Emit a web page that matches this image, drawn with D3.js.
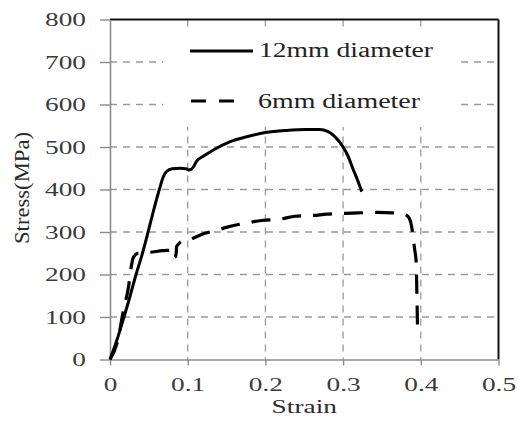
<!DOCTYPE html>
<html>
<head>
<meta charset="utf-8">
<script src="https://cdn.jsdelivr.net/npm/d3@7"></script>
<style>
  html, body { margin: 0; padding: 0; background: #fff; }
  svg { display: block; }
  svg text { font-family: "Liberation Serif", "Times New Roman", Times, "DejaVu Serif", serif; }
</style>
</head>
<body>
<svg id="chart" width="524" height="421"></svg>
<script>
// ---- data ----
const xTicks = [0, 0.1, 0.2, 0.3, 0.4, 0.5];
const yTicks = [0, 100, 200, 300, 400, 500, 600, 700, 800];
const seriesNames = ["12mm diameter", "6mm diameter"];

const strain12 = [0, 0.01, 0.018, 0.026, 0.0335, 0.041, 0.049, 0.056, 0.0635, 0.0686, 0.073, 0.08, 0.09, 0.098, 0.101, 0.104, 0.107, 0.1115, 0.12, 0.133, 0.154, 0.176, 0.2, 0.227, 0.253, 0.27, 0.28, 0.288, 0.295, 0.3, 0.306, 0.313, 0.318, 0.324];
const stress12 = [0, 52, 100, 150, 200, 245, 300, 350, 400, 430, 443, 449, 450, 449, 446, 447, 452, 467, 478, 493, 512, 524, 534, 539, 541, 541, 537, 527, 513, 500, 480, 447, 425, 395];

const strain6 = [0, 0.01, 0.0172, 0.0236, 0.028, 0.03, 0.036, 0.05, 0.068, 0.08, 0.083, 0.0848, 0.0858, 0.0965, 0.099, 0.109, 0.122, 0.135, 0.152, 0.178, 0.195, 0.221, 0.238, 0.262, 0.279, 0.3025, 0.32, 0.345, 0.363, 0.375, 0.381, 0.385, 0.388, 0.39, 0.392, 0.394, 0.395, 0.396];
const stress6 = [0, 45, 115, 168, 225, 240, 250, 252, 256, 258, 262, 242, 266, 281, 280, 287, 297, 303, 312, 322, 327, 331, 337, 339, 342, 344, 345, 346, 345, 343, 340, 333, 315, 290, 260, 230, 150, 54];

// ---- layout ----
const svg = d3.select("#chart");
const x = d3.scaleLinear().domain([0, 0.5]).range([110, 498.5]);
const y = d3.scaleLinear().domain([0, 800]).range([359.5, 19.5]);
const SX = 1.44;
const gridColor = "#9a9a9a";
const axisColor = "#8c8c8c";

// grid
svg.append("g").selectAll("line").data(yTicks.filter(d => d > 0 && d < 800)).join("line")
  .attr("x1", x(0)).attr("x2", x(0.5))
  .attr("y1", d => y(d)).attr("y2", d => y(d))
  .attr("stroke", gridColor).attr("stroke-width", 1.3).attr("stroke-dasharray", "7,6");
svg.append("g").selectAll("line").data(xTicks.filter(d => d > 0 && d < 0.5)).join("line")
  .attr("x1", d => x(d)).attr("x2", d => x(d))
  .attr("y1", y(800)).attr("y2", y(0))
  .attr("stroke", gridColor).attr("stroke-width", 1.3).attr("stroke-dasharray", "7,6");

// top/right border
svg.append("line").attr("x1", x(0)).attr("x2", x(0.5)).attr("y1", y(800)).attr("y2", y(800))
  .attr("stroke", "#111").attr("stroke-width", 2);
svg.append("line").attr("x1", x(0.5)).attr("x2", x(0.5)).attr("y1", y(800)).attr("y2", y(0))
  .attr("stroke", "#111").attr("stroke-width", 2);

// axes
const yAxis = svg.append("g").attr("transform", `translate(${x(0)},0)`)
  .call(d3.axisLeft(y).tickValues(yTicks).tickSize(10).tickSizeOuter(0).tickFormat(d3.format("d")));
const xAxis = svg.append("g").attr("transform", `translate(0,${y(0)})`)
  .call(d3.axisBottom(x).tickValues(xTicks).tickSize(6).tickSizeOuter(0).tickFormat(d => d === 0 ? "0" : d3.format(".1f")(d)));
[yAxis, xAxis].forEach(g => {
  g.attr("font-family", null);
  g.select(".domain").attr("stroke", axisColor).attr("stroke-width", 1.6);
  g.selectAll(".tick line").attr("stroke", axisColor).attr("stroke-width", 1.4);
  g.selectAll(".tick text").attr("font-size", 19).attr("fill", "#3a3a3a");
});
yAxis.selectAll(".tick text").attr("x", -24 / SX).attr("dy", "0.32em").attr("transform", `scale(${SX},1)`);
xAxis.selectAll(".tick text").attr("y", 32).attr("dy", 0).attr("transform", `scale(${SX},1)`);

// legend box (white)
svg.append("rect").attr("x", 163).attr("y", 27).attr("width", 295).attr("height", 100).attr("fill", "#fff");

// curves
const line = d3.line().x(d => x(d[0])).y(d => y(d[1])).curve(d3.curveMonotoneX);
svg.append("path").datum(d3.zip(strain12, stress12))
  .attr("d", line).attr("fill", "none").attr("stroke", "#000").attr("stroke-width", 3)
  .attr("stroke-linejoin", "round");
svg.append("path").datum(d3.zip(strain6, stress6))
  .attr("d", line).attr("fill", "none").attr("stroke", "#000").attr("stroke-width", 3.2)
  .attr("stroke-dasharray", "19,12");

// legend
svg.append("line").attr("x1", 190).attr("x2", 253).attr("y1", 51).attr("y2", 51)
  .attr("stroke", "#000").attr("stroke-width", 3);
svg.append("line").attr("x1", 191).attr("x2", 237).attr("y1", 101).attr("y2", 101)
  .attr("stroke", "#000").attr("stroke-width", 3).attr("stroke-dasharray", "15,13");
svg.append("text").attr("x", 259).attr("y", 57).text(seriesNames[0])
  .attr("font-size", 20).attr("fill", "#222")
  .attr("textLength", 174).attr("lengthAdjust", "spacingAndGlyphs");
svg.append("text").attr("x", 258).attr("y", 108).text(seriesNames[1])
  .attr("font-size", 20).attr("fill", "#222")
  .attr("textLength", 162).attr("lengthAdjust", "spacingAndGlyphs");

// axis titles
svg.append("g").attr("transform", `translate(${(x(0) + x(0.5)) / 2},413) scale(${SX},1)`)
  .append("text").attr("text-anchor", "middle").text("Strain")
  .attr("font-size", 19).attr("fill", "#2a2a2a");
svg.append("g").attr("transform", "translate(29,188) rotate(-90)")
  .append("text").attr("text-anchor", "middle").text("Stress(MPa)")
  .attr("font-size", 20).attr("fill", "#2a2a2a")
  .attr("textLength", 112).attr("lengthAdjust", "spacingAndGlyphs");
</script>
</body>
</html>
